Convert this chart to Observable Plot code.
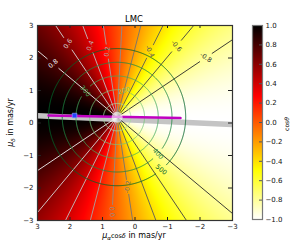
<!DOCTYPE html>
<html><head><meta charset="utf-8">
<script src="https://cdn.jsdelivr.net/npm/d3@7"></script>
<script src="https://cdn.jsdelivr.net/npm/@observablehq/plot@0.6"></script>
<style>
body{margin:0;background:#fff;}
#wrap{position:relative;width:300px;height:250px;overflow:hidden;}
#wrap svg{position:absolute;top:0;}
</style></head><body><div id="wrap"></div>
<script>
// ---------------- data ----------------
const titleText = "LMC";
const xTicks = [3, 2, 1, 0, -1, -2, -3];
const yTicks = [-3, -2, -1, 0, 1, 2, 3];
const cbTicks = [-1, -0.8, -0.6, -0.4, -0.2, 0, 0.2, 0.4, 0.6, 0.8, 1];
const zeroPM = [0.55, 0.18];          // proper motion where the rays / circles converge (mas/yr)
const refAngleDeg = 3;                 // direction of cosθ = 1 (deg from +μα towards +μδ)
const cosLevels = [-0.8, -0.6, -0.4, -0.2, 0.0, 0.2, 0.4, 0.6, 0.8];
const cosLabelLevel = [0.8, 0.6, 0.4, 0.2, -0.4, -0.6, -0.8, 0.0, -0.2];
const cosLabelSide  = [1, 1, 1, 1, 1, 1, 1, -1, -1];
const cosLabelR     = [2.57, 2.72, 2.35, 2.04, 2.26, 2.85, 3.29, 2.92, 2.17];
const vLevels = [100, 200, 300, 400, 500];  // km/s
const kmsPerMas = 237;                       // 4.74 * 50 kpc
const vLabelV   = [300, 200, 400, 500];
const vLabelAng = [39.5, 105, -138, -130];
const lmcPM = [1.86, 0.23];
const bandX = [3, -3], bandY = [0.22, -0.05];
const magX = [2.66, -1.4], magY = [0.23, 0.155];

// ---------------- helpers ----------------
const deg = Math.PI / 180;
const phi0 = refAngleDeg * deg;
const FONT = "DejaVu Sans, sans-serif";
function hot(s) {
  const c = v => Math.min(1, Math.max(0, v));
  const r = c(s / 0.365079), g = c((s - 0.365079) / (0.746032 - 0.365079)), b = c((s - 0.746032) / (1 - 0.746032));
  return `rgb(${Math.round(r*255)},${Math.round(g*255)},${Math.round(b*255)})`;
}
const colorScale = {type: "linear", domain: [-1, 1], interpolate: t => hot(1 - t)};
const cosT = (x, y) => Math.cos(Math.atan2(y - zeroPM[1], x - zeroPM[0]) - phi0);
const pt = (r, a) => [zeroPM[0] + r * Math.cos(a), zeroPM[1] + r * Math.sin(a)];
const norm = t => ((((t + 90) % 180) + 180) % 180) - 90;
const grayOf = L => { const v = Math.round(40 + (L + 0.8) / 1.6 * 200); return `rgb(${v},${v},${v})`; };
const greenOf = v => d3.interpolateGreens(0.35 + 0.55 * (v - 100) / 400);
const gap = 0.22, R = 12;
const intFmt = d3.format("d");

// rays of constant cosθ
const rayMarks = [];
for (const L of cosLevels) for (const side of [1, -1]) {
  const a = phi0 + side * Math.acos(L);
  const i = cosLabelLevel.findIndex((l, k) => l === L && cosLabelSide[k] === side);
  const segs = i >= 0 ? [[0, cosLabelR[i] - gap], [cosLabelR[i] + gap, R]] : [[0, R]];
  const data = segs.map(([r1, r2]) => ({p1: pt(r1, a), p2: pt(r2, a)}));
  rayMarks.push(Plot.link(data, {x1: d => d.p1[0], y1: d => d.p1[1], x2: d => d.p2[0], y2: d => d.p2[1],
    stroke: grayOf(L), strokeWidth: 0.9, clip: true}));
}
const cosLabelMarks = cosLabelLevel.map((L, i) => {
  const a = phi0 + cosLabelSide[i] * Math.acos(L);
  const p = pt(cosLabelR[i], a);
  return Plot.text([L], {x: () => p[0], y: () => p[1], text: d => d.toFixed(1),
    rotate: -norm(a / deg), fill: grayOf(L), fontSize: 6.5});
});

// circles of constant tangential velocity
const circleMarks = vLevels.map(v => {
  const rc = v / kmsPerMas;
  const pts = [];
  for (let i = 0; i <= 720; i++) {
    const a = i * 0.5 * deg;
    let hide = false;
    vLabelV.forEach((lv, k) => {
      if (lv !== v) return;
      const d = Math.abs((((a - vLabelAng[k] * deg) % (2*Math.PI)) + 3*Math.PI) % (2*Math.PI) - Math.PI);
      if (d < gap / rc) hide = true;
    });
    const p = pt(rc, a);
    pts.push(hide ? {x: NaN, y: NaN} : {x: p[0], y: p[1]});
  }
  return Plot.line(pts, {x: "x", y: "y", stroke: greenOf(v), strokeWidth: 0.9, clip: true});
});
const vLabelMarks = vLabelV.map((v, k) => {
  const a = vLabelAng[k] * deg;
  const p = pt(v / kmsPerMas, a);
  return Plot.text([v], {x: () => p[0], y: () => p[1], text: d => String(d),
    rotate: -norm(vLabelAng[k] + 90), fill: greenOf(v), fontSize: 6.5});
});

// ---------------- main plot ----------------
const main = Plot.plot({
  width: 300, height: 250,
  marginLeft: 37, marginRight: 68, marginTop: 25, marginBottom: 30,
  x: {domain: [3, -3]}, y: {domain: [-3, 3]},
  color: colorScale,
  style: {fontFamily: FONT, background: "white", overflow: "visible"},
  marks: [
    Plot.raster({fill: cosT, x1: 3, x2: -3, y1: -3, y2: 3, pixelSize: 1}),
    Plot.line(bandX.map((x, i) => ({x, y: bandY[i]})), {x: "x", y: "y", stroke: "#c4c4c4", strokeWidth: 5.5, clip: true}),
    ...rayMarks,
    ...circleMarks,
    Plot.line(magX.map((x, i) => ({x, y: magY[i]})), {x: "x", y: "y", stroke: "#c000c0", strokeWidth: 2.5}),
    Plot.dot([zeroPM], {x: d => d[0], y: d => d[1], r: 5.5, fill: "white", fillOpacity: 0.6}),
    Plot.dot([lmcPM], {x: d => d[0], y: d => d[1], symbol: "square", r: 2.6, fill: "#2244ff", stroke: "#99aaff", strokeWidth: 0.6}),
    ...cosLabelMarks,
    ...vLabelMarks,
    Plot.tickX(xTicks, {x: d => d, insetTop: 192, stroke: "#222"}),
    Plot.tickX(xTicks, {x: d => d, insetBottom: 192, stroke: "#222"}),
    Plot.tickY(yTicks, {y: d => d, insetRight: 191, stroke: "#222"}),
    Plot.tickY(yTicks, {y: d => d, insetLeft: 191, stroke: "#222"}),
    Plot.axisX({ticks: xTicks, tickSize: 0, tickPadding: 4, fontSize: 7, label: null, fill: "#111", tickFormat: intFmt}),
    Plot.axisY({ticks: yTicks, tickSize: 0, tickPadding: 4, fontSize: 7, label: null, fill: "#111", tickFormat: intFmt}),
    Plot.frame({stroke: "#333", strokeWidth: 1.2})
  ]
});
document.getElementById("wrap").appendChild(main);
const ms = d3.select(main);
ms.append("text").attr("x", 134).attr("y", 21.5).attr("text-anchor", "middle")
  .attr("font-size", 8.5).attr("font-family", FONT).attr("fill", "#000").text(titleText);
const xl = ms.append("text").attr("x", 134).attr("y", 238).attr("text-anchor", "middle")
  .attr("font-size", 8).attr("font-family", FONT).attr("fill", "#000");
xl.append("tspan").attr("font-style", "italic").text("μ");
xl.append("tspan").attr("font-style", "italic").attr("font-size", 5.5).attr("dy", 2).text("α");
xl.append("tspan").attr("dy", -2).attr("font-size", 6.5).text("cos");
xl.append("tspan").attr("font-style", "italic").attr("font-size", 6.5).text("δ");
xl.append("tspan").text(" in mas/yr");
const yl = ms.append("text").attr("transform", "translate(13,122.5) rotate(-90)").attr("text-anchor", "middle")
  .attr("font-size", 8).attr("font-family", FONT).attr("fill", "#000");
yl.append("tspan").attr("font-style", "italic").text("μ");
yl.append("tspan").attr("font-style", "italic").attr("font-size", 5.5).attr("dy", 2).text("δ");
yl.append("tspan").attr("dy", -2).text(" in mas/yr");

// ---------------- colorbar ----------------
const cb = Plot.plot({
  width: 55, height: 250,
  marginLeft: 7, marginRight: 38, marginTop: 25, marginBottom: 31,
  x: {domain: [0, 1], axis: null}, y: {domain: [-1, 1]},
  color: colorScale,
  style: {fontFamily: FONT, background: "transparent", overflow: "visible"},
  marks: [
    Plot.raster({fill: (x, y) => y, x1: 0, x2: 1, y1: -1, y2: 1, pixelSize: 1}),
    Plot.tickY(cbTicks, {y: d => d, insetLeft: 7, stroke: "#555"}),
    Plot.axisY({ticks: cbTicks, anchor: "right", tickSize: 0, tickPadding: 3, fontSize: 7,
      tickFormat: d3.format(".1f"), label: null, fill: "#111"}),
    Plot.frame({stroke: "#777", strokeWidth: 1.2})
  ]
});
cb.style.left = "245px";
document.getElementById("wrap").appendChild(cb);
const cl = d3.select(cb).append("text").attr("transform", "translate(44,124) rotate(-90)")
  .attr("text-anchor", "middle").attr("font-size", 6).attr("font-family", FONT).attr("fill", "#000");
cl.append("tspan").text("cos");
cl.append("tspan").attr("font-style", "italic").text("θ");
</script>
</body></html>
